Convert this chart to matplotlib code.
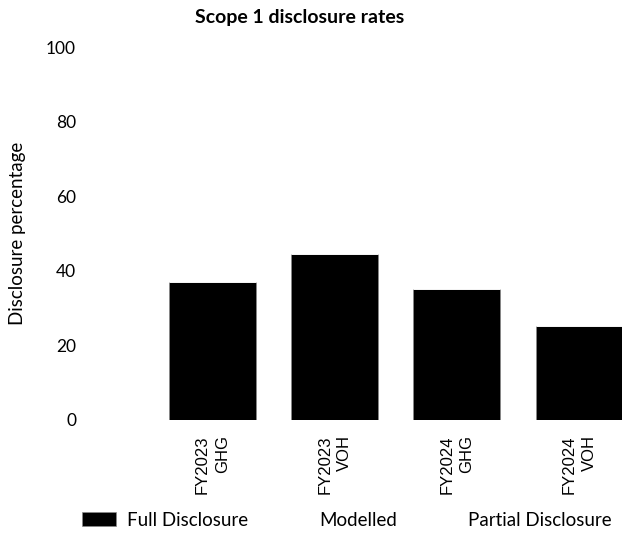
import numpy as np
import matplotlib.pyplot as plt

#------- Data

categories = ['FY2023\nGHG', 'FY2023\nVOH', 'FY2024\nGHG', 'FY2024\nVOH']
full_disclosure = [37.0, 44.4, 35.2, 25.1]
modelled = [0, 0, 0, 0]
partial_disclosure = [0, 0, 0, 0]
y_ticks = [0, 20, 40, 60, 80, 100]

series_names = ['Full Disclosure', 'Modelled', 'Partial Disclosure']
series_colors = ['black', 'white', 'white']
series_edges = ['#8a8a8a', 'white', 'white']

plt.rcParams['font.family'] = ['Lato', 'DejaVu Sans']

#------- Figure and axes

fig = plt.figure(figsize=(6.22, 5.42), dpi=100)
ax = fig.add_axes([90 / 622, 122 / 542, 532 / 622, 373 / 542])

x = np.arange(len(categories))
bottom = np.zeros(len(categories))
for values, name, color, edge in zip([full_disclosure, modelled, partial_disclosure],
                                     series_names, series_colors, series_edges):
    ax.bar(x, values, width=0.71, bottom=bottom, color=color,
           edgecolor=edge, linewidth=0.5, label=name)
    bottom = bottom + np.array(values)

ax.set_xlim(-1.0, 3.35)
ax.set_ylim(0, 100)

for s in ax.spines.values():
    s.set_visible(False)

ax.set_yticks(y_ticks)
ax.set_yticklabels([str(t) for t in y_ticks], fontsize=12.5)
ax.tick_params(axis='y', length=0, pad=10)

ax.set_xticks(x)
ax.set_xticklabels(categories, rotation=90, fontsize=12, family='Liberation Sans',
                   multialignment='right', linespacing=1.4)
ax.tick_params(axis='x', length=0, pad=11)

ax.set_ylabel('Disclosure percentage', fontsize=13.5)
ax.yaxis.set_label_coords(-0.12, 0.5)

#------- Title and legend

fig.text(300 / 622, 1 - 18 / 542, 'Scope 1 disclosure rates', ha='center', va='center',
         fontsize=14, fontweight='bold')

fig.legend(loc='center left', bbox_to_anchor=(65 / 622, 22 / 542), ncol=3, frameon=False,
           prop={'size': 13.5}, handlelength=1.8, handleheight=0.7,
           handletextpad=0.6, columnspacing=1.4)

plt.savefig('out.png', dpi=100)
